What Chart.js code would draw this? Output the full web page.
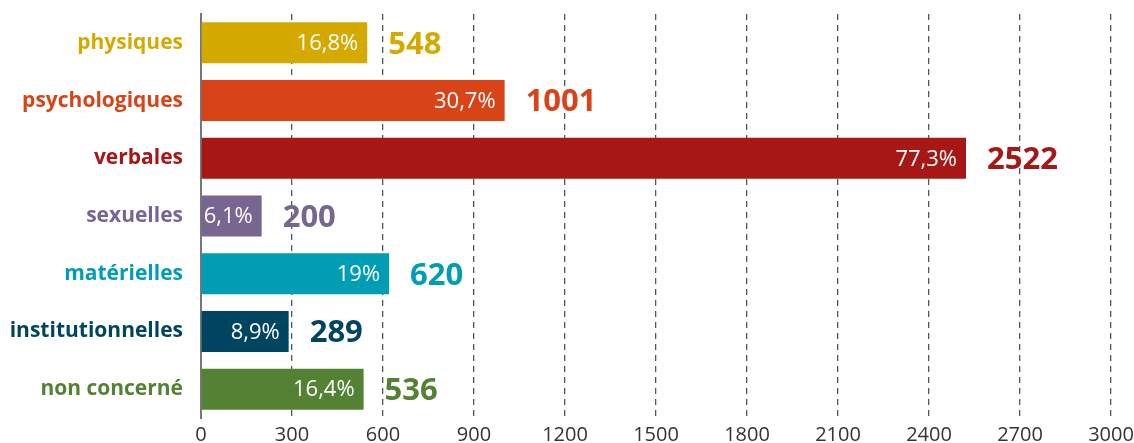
<!DOCTYPE html>
<html>
<head>
<meta charset="utf-8">
<script src="https://cdn.jsdelivr.net/npm/chart.js@4/dist/chart.umd.min.js"></script>
<style>
  html, body { margin: 0; padding: 0; background: #fff; }
  #chart { display: block; }
</style>
</head>
<body>
<canvas id="chart" width="1134" height="443"></canvas>
<script>
// données
const categories = ["physiques", "psychologiques", "verbales", "sexuelles", "matérielles", "institutionnelles", "non concerné"];
const counts = [548, 1001, 2522, 200, 620, 289, 536];
const percents = ["16,8%", "30,7%", "77,3%", "6,1%", "19%", "8,9%", "16,4%"];
const colors = ["#d5aa00", "#d84318", "#a61716", "#77668f", "#009db5", "#004560", "#538234"];
const xTicks = [0, 300, 600, 900, 1200, 1500, 1800, 2100, 2400, 2700, 3000];

const FONT = "'Open Sans', 'Noto Sans', sans-serif";

// étiquettes : pourcentage dans la barre, effectif à droite
const barLabels = {
    id: 'barLabels',
    afterDatasetsDraw(chart) {
        const ctx = chart.ctx;
        const meta = chart.getDatasetMeta(0);
        ctx.save();
        ctx.textBaseline = 'middle';
        meta.data.forEach((bar, i) => {
            ctx.font = "22px " + FONT;
            ctx.fillStyle = '#fff';
            ctx.textAlign = 'right';
            ctx.fillText(percents[i], bar.x - 9, bar.y + 1);

            ctx.font = "bold 31px " + FONT;
            ctx.fillStyle = colors[i];
            ctx.textAlign = 'left';
            ctx.fillText(counts[i], bar.x + 21, bar.y + 2);
        });
        ctx.restore();
    }
};

new Chart(document.getElementById('chart').getContext('2d'), {
    type: 'bar',
    data: {
        labels: categories,
        datasets: [{
            data: counts,
            backgroundColor: colors,
            borderWidth: 0,
            barPercentage: 0.71,
            categoryPercentage: 1
        }]
    },
    options: {
        indexAxis: 'y',
        responsive: false,
        animation: false,
        layout: { padding: { top: 14, right: 23, left: 0, bottom: 0 } },
        plugins: {
            legend: { display: false },
            tooltip: { enabled: false }
        },
        scales: {
            x: {
                min: 0,
                max: 3000,
                afterBuildTicks: (scale) => { scale.ticks = xTicks.map(v => ({ value: v })); },
                afterFit: (scale) => {
                    scale.height = 25;
                    scale.paddingLeft = 0;
                    scale.paddingRight = 0;
                },
                grid: { color: '#555', lineWidth: 1.3, drawTicks: false },
                border: { display: false, dash: [6, 5] },
                ticks: {
                    color: '#333',
                    padding: 5,
                    autoSkip: false,
                    maxRotation: 0,
                    callback: (v) => String(v),
                    font: { family: FONT, size: 20 }
                }
            },
            y: {
                afterFit: (scale) => {
                    scale.width = 201;
                    scale.paddingTop = 0;
                    scale.paddingBottom = 0;
                },
                grid: { display: false, drawTicks: false },
                border: { display: true, color: '#777', width: 2 },
                ticks: {
                    padding: 18,
                    color: (c) => colors[c.index],
                    font: { family: FONT, size: 21, weight: 'bold' }
                }
            }
        }
    },
    plugins: [barLabels]
});
</script>
</body>
</html>
